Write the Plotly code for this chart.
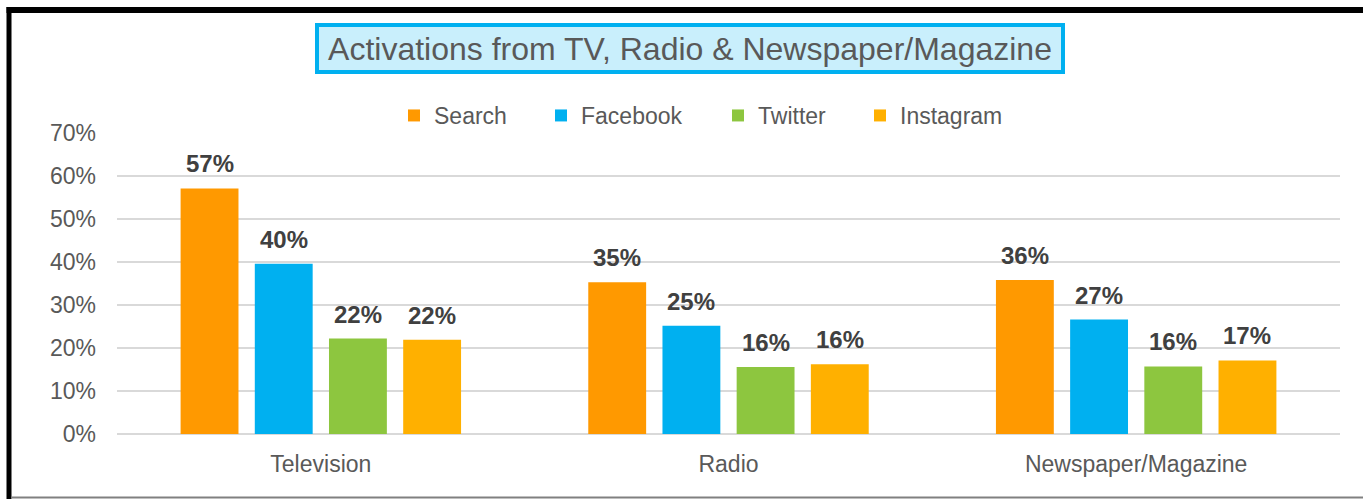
import plotly.graph_objects as go

categories = ["Television", "Radio", "Newspaper/Magazine"]
series_names = ["Search", "Facebook", "Twitter", "Instagram"]
search = [57.1, 35.3, 35.8]
facebook = [39.6, 25.2, 26.6]
twitter = [22.2, 15.6, 15.7]
instagram = [21.9, 16.2, 17.1]
series_values = [search, facebook, twitter, instagram]
colors = ["#ff9900", "#00b0f0", "#8dc63f", "#ffb000"]
title_text = "Activations from TV, Radio & Newspaper/Magazine"

W, H = 1363, 499
L, R, T, B = 117, 23, 133, 65
PW, PH = W - L - R, H - T - B
BARGAP, GROUPGAP = 0.272, 0.22
FONT = "Liberation Sans, Arial, sans-serif"


def xp(px):
    return (px - L) / PW


def yp(py):
    return (H - B - py) / PH


fig = go.Figure()
legend_text_x = [434, 581, 758, 900]
for j, (name, vals, col) in enumerate(zip(series_names, series_values, colors)):
    lname = "legend" if j == 0 else f"legend{j + 1}"
    fig.add_trace(go.Bar(name=name, x=categories, y=vals, marker_color=col,
                         marker_line_width=0, legend=lname, hoverinfo="skip"))

slot = PW / len(categories) * (1 - BARGAP) / len(series_names)
annotations = []
for j, vals in enumerate(series_values):
    for cat, v in zip(categories, vals):
        annotations.append(dict(
            x=cat, y=v, xref="x", yref="y", text=f"{round(v)}%", showarrow=False,
            xshift=(j - (len(series_names) - 1) / 2) * slot, yshift=9, yanchor="bottom",
            font=dict(family=FONT, size=24, color="#404040", weight="bold")))

annotations.append(dict(
    x=xp(690), y=yp(48.5), xref="paper", yref="paper", text=title_text, showarrow=False,
    xanchor="center", yanchor="middle", width=742, height=43, borderpad=0,
    bgcolor="#c9effc", bordercolor="#00b0f0", borderwidth=4,
    font=dict(family=FONT, size=32, color="#595959")))

legend_common = dict(orientation="h", xanchor="left", yanchor="middle",
                     bgcolor="rgba(0,0,0,0)", borderwidth=0,
                     font=dict(family=FONT, size=23, color="#595959"))
layout_legends = {}
for j, tx in enumerate(legend_text_x):
    lname = "legend" if j == 0 else f"legend{j + 1}"
    layout_legends[lname] = dict(x=xp(tx - 40), y=yp(115.5), **legend_common)

shapes = [
    dict(type="rect", xref="paper", yref="paper", x0=xp(6.5), x1=xp(1375), y0=yp(13), y1=yp(7),
         fillcolor="black", line_width=0, layer="above"),
    dict(type="rect", xref="paper", yref="paper", x0=xp(6.5), x1=xp(11.5), y0=yp(499), y1=yp(7),
         fillcolor="black", line_width=0, layer="above"),
    dict(type="line", xref="paper", yref="paper", x0=xp(11.5), x1=xp(1375), y0=yp(497.5), y1=yp(497.5),
         line=dict(color="#808080", width=2), layer="above"),
]

fig.update_layout(
    width=W, height=H, autosize=False,
    margin=dict(l=L, r=R, t=T, b=B, pad=0),
    paper_bgcolor="white", plot_bgcolor="white",
    barmode="group", bargap=BARGAP, bargroupgap=GROUPGAP,
    showlegend=True,
    annotations=annotations, shapes=shapes,
    font=dict(family=FONT, color="#595959"),
    **layout_legends,
)
fig.update_xaxes(showgrid=False, showline=False, zeroline=False, ticks="",
                 tickfont=dict(family=FONT, size=23, color="#595959"),
                 ticklabelstandoff=14, fixedrange=True)
fig.update_yaxes(range=[0, 70], dtick=10, ticksuffix="%", showgrid=True,
                 gridcolor="#d9d9d9", gridwidth=2, zeroline=True, zerolinecolor="#d9d9d9",
                 zerolinewidth=2, showline=False, ticks="",
                 tickfont=dict(family=FONT, size=23, color="#595959"),
                 ticklabelstandoff=20, fixedrange=True)

fig.write_html("out.html", config={"displayModeBar": False},
               post_script="document.body.style.margin='0';document.body.style.overflow='hidden';")
